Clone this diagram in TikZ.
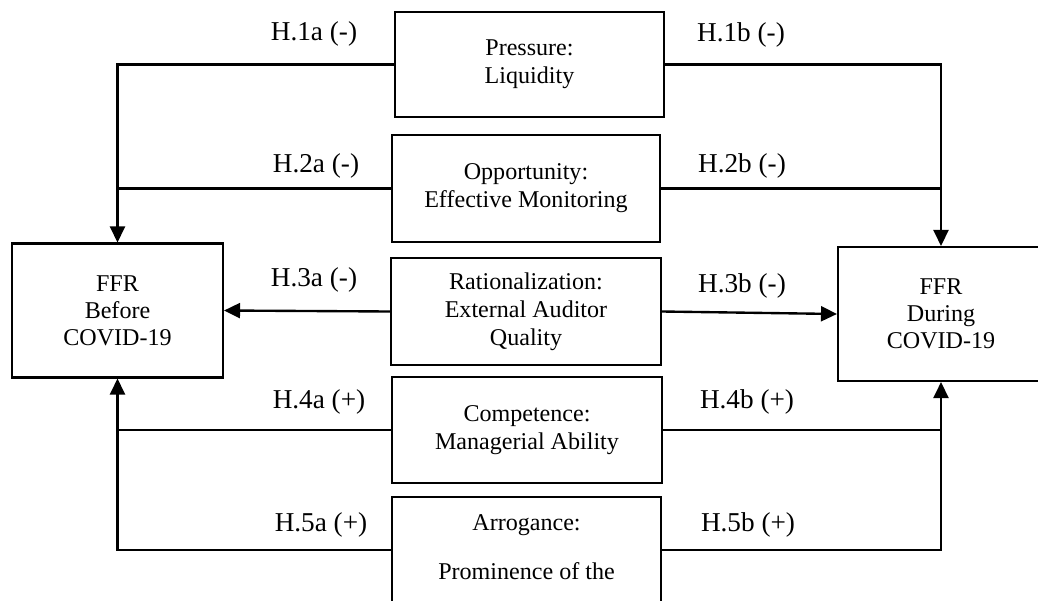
\documentclass[tikz,border=0pt]{standalone}
\usepackage{fontspec}
\setmainfont{Liberation Serif}
\usepackage{tikz}
\usetikzlibrary{arrows.meta}

\tikzset{
	box/.style = {draw, line width=1.2pt, align=center, font=\fontsize{13.7}{16}\selectfont},
	hyp/.style = {font=\fontsize{15.5}{17}\selectfont},
	link/.style = {line width=1.35pt},
	arr/.style = {line width=1.35pt, -{Triangle[length=0.32cm,width=0.3cm]}}
}

\begin{document}
\begin{tikzpicture}[x=0.02cm, y=0.02cm]
			\path [use as bounding box, clip] (0,0) rectangle (1038,600);
			% outcome boxes
			\node [box, minimum width=4.22cm, minimum height=2.68cm, font=\fontsize{13.7}{15.3}\selectfont] (before) at (117.5,289.5) {FFR\\Before\\COVID-19};
			\node [box, minimum width=4.12cm, minimum height=2.68cm, font=\fontsize{13.7}{15.3}\selectfont] (during) at (941,286) {FFR\\During\\COVID-19};
			% fraud diamond boxes
			\node [box, minimum width=5.38cm, minimum height=2.1cm] (pressure) at (529.5,535.5) {Pressure:\\Liquidity};
			\node [box, minimum width=5.36cm, minimum height=2.14cm] (opportunity) at (526,411.5) {Opportunity:\\Effective Monitoring};
			\node [box, minimum width=5.4cm, minimum height=2.14cm] (rationalization) at (526,288.5) {Rationalization:\\External Auditor\\Quality};
			\node [box, minimum width=5.4cm, minimum height=2.12cm] (competence) at (527,170) {Competence:\\Managerial Ability};
			\node [box, minimum width=5.38cm, minimum height=3cm] (arrogance) at (526.5,28) {Arrogance:\\[12pt]Prominence of the\\[12pt]\phantom{X}};
			\coordinate (a5w) at ([yshift=-1.08cm]arrogance.north west);
			\coordinate (a5e) at ([yshift=-1.08cm]arrogance.north east);
			% connectors
			\draw [arr] (pressure.west) -| (before.north);
			\draw [link] (opportunity.west) -- (opportunity.west -| before.north);
			\draw [arr] (pressure.east) -| (during.north);
			\draw [link] (opportunity.east) -- (opportunity.east -| during.north);
			\draw [arr] (rationalization.west) -- (before.east);
			\draw [arr] (rationalization.east) -- (during.west);
			\draw [arr] (competence.west) -| (before.south);
			\draw [link] (a5w) -| (competence.west -| before.south);
			\draw [arr] (competence.east) -| (during.south);
			\draw [link] (a5e) -| (competence.east -| during.south);
			% hypothesis labels
			\node [hyp] (h1a) at (314,566) {H.1a (-)};
			\node [hyp] (h1b) at (741,565) {H.1b (-)};
			\node [hyp] (h2a) at (316,434) {H.2a (-)};
			\node [hyp] (h2b) at (742,434) {H.2b (-)};
			\node [hyp] (h3a) at (314,320) {H.3a (-)};
			\node [hyp] (h3b) at (742,314) {H.3b (-)};
			\node [hyp] (h4a) at (319,198) {H.4a (+)};
			\node [hyp] (h4b) at (747,198) {H.4b (+)};
			\node [hyp] (h5a) at (321,75) {H.5a (+)};
			\node [hyp] (h5b) at (748,75) {H.5b (+)};
		\end{tikzpicture}
\end{document}
